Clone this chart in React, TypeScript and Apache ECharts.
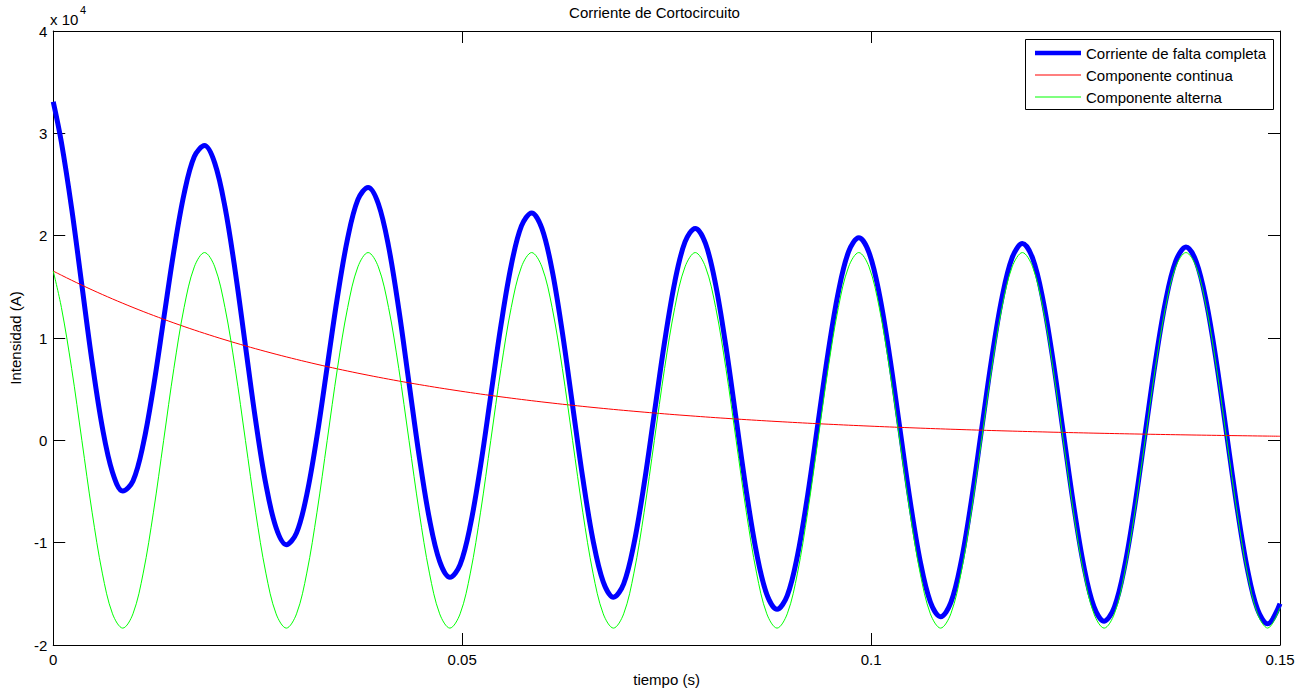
import { useEffect, useRef } from "react";
import * as echarts from "echarts";

// Sample times (s)
const tiempo = [
  0,
  0.001, 0.00225, 0.0035, 0.00475, 0.006, 0.00725, 0.0085, 0.00975,
  0.011, 0.01225, 0.0135, 0.01475, 0.016, 0.01725, 0.0185, 0.01975,
  0.021, 0.02225, 0.0235, 0.02475, 0.026, 0.02725, 0.0285, 0.02975,
  0.031, 0.03225, 0.0335, 0.03475, 0.036, 0.03725, 0.0385, 0.03975,
  0.041, 0.04225, 0.0435, 0.04475, 0.046, 0.04725, 0.0485, 0.04975,
  0.051, 0.05225, 0.0535, 0.05475, 0.056, 0.05725, 0.0585, 0.05975,
  0.061, 0.06225, 0.0635, 0.06475, 0.066, 0.06725, 0.0685, 0.06975,
  0.071, 0.07225, 0.0735, 0.07475, 0.076, 0.07725, 0.0785, 0.07975,
  0.081, 0.08225, 0.0835, 0.08475, 0.086, 0.08725, 0.0885, 0.08975,
  0.091, 0.09225, 0.0935, 0.09475, 0.096, 0.09725, 0.0985, 0.09975,
  0.101, 0.10225, 0.1035, 0.10475, 0.106, 0.10725, 0.1085, 0.10975,
  0.111, 0.11225, 0.1135, 0.11475, 0.116, 0.11725, 0.1185, 0.11975,
  0.121, 0.12225, 0.1235, 0.12475, 0.126, 0.12725, 0.1285, 0.12975,
  0.131, 0.13225, 0.1335, 0.13475, 0.136, 0.13725, 0.1385, 0.13975,
  0.141, 0.14225, 0.1435, 0.14475, 0.146, 0.14725, 0.1485,
  0.15,
];

// Alternating (50 Hz) component, A
const componenteAlterna = [
  16540,
  12975, 7022, 0, -7022, -12975, -16953, -18350, -16953,
  -12975, -7022, 0, 7022, 12975, 16953, 18350, 16953,
  12975, 7022, 0, -7022, -12975, -16953, -18350, -16953,
  -12975, -7022, 0, 7022, 12975, 16953, 18350, 16953,
  12975, 7022, 0, -7022, -12975, -16953, -18350, -16953,
  -12975, -7022, 0, 7022, 12975, 16953, 18350, 16953,
  12975, 7022, 0, -7022, -12975, -16953, -18350, -16953,
  -12975, -7022, 0, 7022, 12975, 16953, 18350, 16953,
  12975, 7022, 0, -7022, -12975, -16953, -18350, -16953,
  -12975, -7022, 0, 7022, 12975, 16953, 18350, 16953,
  12975, 7022, 0, -7022, -12975, -16953, -18350, -16953,
  -12975, -7022, 0, 7022, 12975, 16953, 18350, 16953,
  12975, 7022, 0, -7022, -12975, -16953, -18350, -16953,
  -12975, -7022, 0, 7022, 12975, 16953, 18350, 16953,
  12975, 7022, 0, -7022, -12975, -16953, -18350,
  -16350,
];

// Decaying DC component, A
const componenteContinua = [
  16540,
  16135, 15642, 15164, 14701, 14252, 13817, 13395, 12986,
  12589, 12205, 11832, 11471, 11120, 10781, 10451, 10132,
  9823, 9523, 9232, 8950, 8677, 8412, 8155, 7906,
  7664, 7430, 7203, 6983, 6770, 6563, 6363, 6168,
  5980, 5797, 5620, 5449, 5282, 5121, 4965, 4813,
  4666, 4523, 4385, 4251, 4122, 3996, 3874, 3755,
  3641, 3529, 3422, 3317, 3216, 3118, 3022, 2930,
  2841, 2754, 2670, 2588, 2509, 2433, 2358, 2286,
  2216, 2149, 2083, 2020, 1958, 1898, 1840, 1784,
  1729, 1677, 1625, 1576, 1528, 1481, 1436, 1392,
  1349, 1308, 1268, 1230, 1192, 1156, 1120, 1086,
  1053, 1021, 990, 959, 930, 902, 874, 847,
  822, 796, 772, 749, 726, 704, 682, 661,
  641, 621, 602, 584, 566, 549, 532, 516,
  500, 485, 470, 456, 442, 428, 415,
  400,
];

const nombres = ["Corriente de falta completa", "Componente continua", "Componente alterna"];
const colores = ["#0000ff", "#ff0000", "#00ff00"];
const grosores = [5, 1, 1];
const FONT = "'Liberation Sans', Arial, Helvetica, sans-serif";

export default function App() {
  const ref = useRef<HTMLDivElement>(null);

  useEffect(() => {
    document.body.style.margin = "0";
    if (!ref.current) return;
    const chart = echarts.init(ref.current, undefined, { renderer: "svg" });

    // Full fault current = DC + AC
    const total = componenteAlterna.map((v, i) => v + componenteContinua[i]);
    const pares = (vals: number[]) => tiempo.map((t, i) => [t, vals[i]]);
    const curvas = [total, componenteContinua, componenteAlterna];

    const tickStyle = { inside: true, length: 12, lineStyle: { color: "#000", width: 1 } };
    const lineAx = { show: true, onZero: false, lineStyle: { color: "#000", width: 1 } };
    const labelStyle = { color: "#000", fontSize: 15, fontFamily: FONT };

    // Boxed legend in the upper-right corner of the plot
    const legendX = 1025;
    const legendY = 39;
    const rowY = [53, 75, 97];
    const legendGraphic = [
      {
        type: "rect",
        shape: { x: legendX + 0.5, y: legendY + 0.5, width: 248, height: 70 },
        style: { fill: "#fff", stroke: "#000", lineWidth: 1 },
        z: 100,
      },
      ...nombres.flatMap((n, i) => [
        {
          type: "line",
          shape: { x1: legendX + 10, y1: rowY[i], x2: legendX + 56, y2: rowY[i] },
          style: { stroke: colores[i], lineWidth: grosores[i] === 1 ? 1.2 : 4.5 },
          z: 101,
        },
        {
          type: "text",
          x: legendX + 61,
          y: rowY[i],
          style: {
            text: n,
            fill: "#000",
            font: `15px ${FONT}`,
            verticalAlign: "middle",
            align: "left",
          },
          z: 101,
        },
      ]),
    ];

    chart.setOption({
      animation: false,
      backgroundColor: "#fff",
      title: {
        text: "Corriente de Cortocircuito",
        left: "center",
        top: 5,
        padding: 0,
        textStyle: { color: "#000", fontSize: 15, fontWeight: "normal", fontFamily: FONT },
      },
      grid: { left: 50, right: 29, top: 31, bottom: 44, containLabel: false },
      xAxis: [
        {
          type: "value",
          position: "bottom",
          min: 0,
          max: 0.15,
          interval: 0.05,
          axisLine: lineAx,
          axisTick: tickStyle,
          axisLabel: { ...labelStyle, margin: 7 },
          splitLine: { show: false },
          name: "tiempo (s)",
          nameLocation: "middle",
          nameGap: 27,
          nameTextStyle: labelStyle,
        },
        {
          type: "value",
          position: "top",
          min: 0,
          max: 0.15,
          interval: 0.05,
          axisLine: lineAx,
          axisTick: tickStyle,
          axisLabel: { show: false },
          splitLine: { show: false },
        },
      ],
      yAxis: [
        {
          type: "value",
          position: "left",
          min: -20000,
          max: 40000,
          interval: 10000,
          axisLine: lineAx,
          axisTick: tickStyle,
          axisLabel: { ...labelStyle, margin: 6, formatter: (v: number) => String(v / 10000) },
          splitLine: { show: false },
          name: "Intensidad (A)",
          nameLocation: "middle",
          nameGap: 29,
          nameTextStyle: labelStyle,
        },
        {
          type: "value",
          position: "right",
          min: -20000,
          max: 40000,
          interval: 10000,
          axisLine: lineAx,
          axisTick: tickStyle,
          axisLabel: { show: false },
          splitLine: { show: false },
        },
      ],
      graphic: [
        {
          type: "text",
          left: 50,
          top: 12,
          style: { text: "x 10", fill: "#000", font: `15px ${FONT}` },
        },
        {
          type: "text",
          left: 80,
          top: 4,
          style: { text: "4", fill: "#000", font: `11px ${FONT}` },
        },
        ...legendGraphic,
      ],
      series: nombres.map((n, i) => ({
        name: n,
        type: "line",
        data: pares(curvas[i]),
        showSymbol: false,
        symbol: "none",
        smooth: 0.35,
        lineStyle: { color: colores[i], width: grosores[i] },
        itemStyle: { color: colores[i] },
      })),
    });

    return () => chart.dispose();
  }, []);

  return (
    <div
      ref={ref}
      style={{ position: "fixed", left: 0, top: 0, width: 1309, height: 692, background: "#fff" }}
    />
  );
}
